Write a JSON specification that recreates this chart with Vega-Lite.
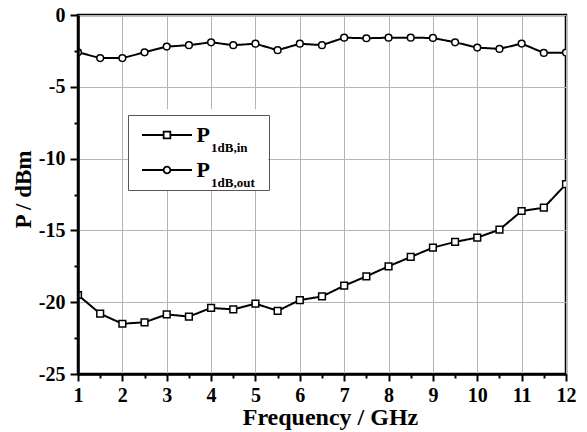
{
  "$schema": "https://vega.github.io/schema/vega-lite/v6.json",
  "width": 488,
  "height": 359,
  "autosize": "none",
  "padding": {"left": 78, "top": 15, "right": 21, "bottom": 58},
  "background": "white",
  "config": {
    "view": {"stroke": "black", "strokeWidth": 2.5},
    "font": "Liberation Serif"
  },
  "data": {
    "values": [
      {"f": 1, "p": -19.5, "series": "in", "sub": "1dB,in"},
      {"f": 1.5, "p": -20.8, "series": "in", "sub": "1dB,in"},
      {"f": 2, "p": -21.5, "series": "in", "sub": "1dB,in"},
      {"f": 2.5, "p": -21.4, "series": "in", "sub": "1dB,in"},
      {"f": 3, "p": -20.85, "series": "in", "sub": "1dB,in"},
      {"f": 3.5, "p": -21.0, "series": "in", "sub": "1dB,in"},
      {"f": 4, "p": -20.4, "series": "in", "sub": "1dB,in"},
      {"f": 4.5, "p": -20.5, "series": "in", "sub": "1dB,in"},
      {"f": 5, "p": -20.1, "series": "in", "sub": "1dB,in"},
      {"f": 5.5, "p": -20.6, "series": "in", "sub": "1dB,in"},
      {"f": 6, "p": -19.85, "series": "in", "sub": "1dB,in"},
      {"f": 6.5, "p": -19.6, "series": "in", "sub": "1dB,in"},
      {"f": 7, "p": -18.85, "series": "in", "sub": "1dB,in"},
      {"f": 7.5, "p": -18.2, "series": "in", "sub": "1dB,in"},
      {"f": 8, "p": -17.5, "series": "in", "sub": "1dB,in"},
      {"f": 8.5, "p": -16.85, "series": "in", "sub": "1dB,in"},
      {"f": 9, "p": -16.2, "series": "in", "sub": "1dB,in"},
      {"f": 9.5, "p": -15.8, "series": "in", "sub": "1dB,in"},
      {"f": 10, "p": -15.5, "series": "in", "sub": "1dB,in"},
      {"f": 10.5, "p": -14.95, "series": "in", "sub": "1dB,in"},
      {"f": 11, "p": -13.65, "series": "in", "sub": "1dB,in"},
      {"f": 11.5, "p": -13.42, "series": "in", "sub": "1dB,in"},
      {"f": 12, "p": -11.78, "series": "in", "sub": "1dB,in"},
      {"f": 1, "p": -2.6, "series": "out", "sub": "1dB,out"},
      {"f": 1.5, "p": -3.0, "series": "out", "sub": "1dB,out"},
      {"f": 2, "p": -3.0, "series": "out", "sub": "1dB,out"},
      {"f": 2.5, "p": -2.6, "series": "out", "sub": "1dB,out"},
      {"f": 3, "p": -2.2, "series": "out", "sub": "1dB,out"},
      {"f": 3.5, "p": -2.1, "series": "out", "sub": "1dB,out"},
      {"f": 4, "p": -1.9, "series": "out", "sub": "1dB,out"},
      {"f": 4.5, "p": -2.1, "series": "out", "sub": "1dB,out"},
      {"f": 5, "p": -2.0, "series": "out", "sub": "1dB,out"},
      {"f": 5.5, "p": -2.45, "series": "out", "sub": "1dB,out"},
      {"f": 6, "p": -2.0, "series": "out", "sub": "1dB,out"},
      {"f": 6.5, "p": -2.1, "series": "out", "sub": "1dB,out"},
      {"f": 7, "p": -1.58, "series": "out", "sub": "1dB,out"},
      {"f": 7.5, "p": -1.62, "series": "out", "sub": "1dB,out"},
      {"f": 8, "p": -1.58, "series": "out", "sub": "1dB,out"},
      {"f": 8.5, "p": -1.58, "series": "out", "sub": "1dB,out"},
      {"f": 9, "p": -1.6, "series": "out", "sub": "1dB,out"},
      {"f": 9.5, "p": -1.9, "series": "out", "sub": "1dB,out"},
      {"f": 10, "p": -2.27, "series": "out", "sub": "1dB,out"},
      {"f": 10.5, "p": -2.36, "series": "out", "sub": "1dB,out"},
      {"f": 11, "p": -1.99, "series": "out", "sub": "1dB,out"},
      {"f": 11.5, "p": -2.64, "series": "out", "sub": "1dB,out"},
      {"f": 12, "p": -2.62, "series": "out", "sub": "1dB,out"}
    ]
  },
  "resolve": {"axis": {"x": "independent", "y": "independent"}},
  "layer": [
    {
      "mark": {"type": "line", "color": "black", "strokeWidth": 2, "clip": true},
      "encoding": {
        "x": {
          "field": "f", "type": "quantitative",
          "scale": {"domain": [1, 12], "nice": false, "zero": false},
          "axis": {
            "orient": "bottom",
            "values": [1, 1.5, 2, 2.5, 3, 3.5, 4, 4.5, 5, 5.5, 6, 6.5, 7, 7.5, 8, 8.5, 9, 9.5, 10, 10.5, 11, 11.5, 12],
            "labelExpr": "datum.value % 1 === 0 ? '' + datum.value : ''",
            "tickSize": {"condition": {"test": "datum.value % 1 === 0", "value": 7}, "value": 4},
            "grid": false,
            "domainColor": "black", "domainWidth": 2.5,
            "tickColor": "black", "tickWidth": 2,
            "labelFont": "Liberation Serif", "labelFontSize": 20, "labelFontWeight": "bold", "labelColor": "black",
            "labelPadding": 4, "labelFlush": false, "labelOverlap": false,
            "title": "Frequency / GHz",
            "titleFont": "Liberation Serif", "titleFontSize": 24, "titleFontWeight": "bold", "titleColor": "black",
            "titlePadding": 0,
            "titleX": 252,
            "zindex": 1
          }
        },
        "y": {
          "field": "p", "type": "quantitative",
          "scale": {"domain": [-25, 0], "nice": false, "zero": false},
          "axis": {
            "orient": "left",
            "values": [-25, -22.5, -20, -17.5, -15, -12.5, -10, -7.5, -5, -2.5, 0],
            "labelExpr": "datum.value % 5 === 0 ? '' + datum.value : ''",
            "tickSize": {"condition": {"test": "datum.value % 5 === 0", "value": 8}, "value": 4},
            "grid": false,
            "domainColor": "black", "domainWidth": 2.5,
            "tickColor": "black", "tickWidth": 2,
            "labelFont": "Liberation Serif", "labelFontSize": 20, "labelFontWeight": "bold", "labelColor": "black",
            "labelPadding": 5, "labelOverlap": false,
            "title": "P / dBm",
            "titleFont": "Liberation Serif", "titleFontSize": 23, "titleFontWeight": "bold", "titleColor": "black",
            "titlePadding": 3,
            "titleY": 174,
            "zindex": 1
          }
        },
        "strokeDash": {
          "field": "sub", "type": "nominal",
          "scale": {"domain": ["1dB,in", "1dB,out"], "range": [[1, 0], [1, 0]]},
          "legend": {
            "orient": "none", "legendX": 50, "legendY": 129, "title": null,
            "values": ["1dB,out"],
            "padding": 0, "labelOffset": 18, "symbolOffset": 13,
            "symbolSize": 2500, "symbolStrokeWidth": 2, "symbolStrokeColor": "black",
            "labelExpr": "datum.label + '\u00a0\u00a0\u00a0\u00a0\u200b'",
            "labelFont": "Liberation Serif", "labelFontSize": 13, "labelFontWeight": "bold", "labelColor": "black",
            "labelBaseline": "alphabetic",
            "fillColor": "white",
            "encode": {
              "labels": {"update": {"dy": {"value": 17}}}
            }
          }
        },
        "strokeWidth": {
          "field": "sub", "type": "ordinal",
          "scale": {"domain": ["1dB,out", "1dB,in"], "range": [2, 2]},
          "legend": {
            "orient": "none", "legendX": 50, "legendY": 94, "title": null,
            "values": ["1dB,in"],
            "padding": 0, "labelOffset": 18, "symbolOffset": 13,
            "symbolSize": 2500, "symbolStrokeColor": "black",
            "labelExpr": "datum.label + '\u00a0\u00a0\u00a0\u00a0\u00a0\u00a0\u200b'",
            "labelFont": "Liberation Serif", "labelFontSize": 13, "labelFontWeight": "bold", "labelColor": "black",
            "labelBaseline": "alphabetic",
            "fillColor": "white",
            "encode": {
              "labels": {"update": {"dy": {"value": 17}}}
            }
          }
        }
      }
    },
    {
      "mark": {"type": "point", "filled": true, "fill": "white", "stroke": "black", "strokeWidth": 1.5, "size": 45, "opacity": 1, "clip": true},
      "encoding": {
        "x": {
          "field": "f", "type": "quantitative",
          "axis": {
            "orient": "bottom",
            "values": [1, 2, 3, 4, 5, 6, 7, 8, 9, 10, 11, 12],
            "grid": true, "gridColor": "#b4b4b4", "gridWidth": 1,
            "domain": false, "ticks": false, "labels": false, "title": null,
            "zindex": 0
          }
        },
        "y": {
          "field": "p", "type": "quantitative",
          "axis": {
            "orient": "left",
            "values": [-25, -20, -15, -10, -5, 0],
            "grid": true, "gridColor": "#b4b4b4", "gridWidth": 1,
            "domain": false, "ticks": false, "labels": false, "title": null,
            "zindex": 0
          }
        },
        "shape": {
          "field": "series", "type": "nominal",
          "scale": {"domain": ["in", "out"], "range": ["square", "circle"]},
          "legend": {
            "orient": "none", "legendX": 50, "legendY": 100, "title": null,
            "padding": 9, "rowPadding": 13, "labelOffset": 18.5, "symbolOffset": 19,
            "symbolSize": 45, "symbolStrokeWidth": 1.8,
            "labelExpr": "'P\u00a0\u00a0\u00a0\u00a0\u00a0\u00a0\u00a0\u00a0\u00a0\u200b'",
            "labelFont": "Liberation Serif", "labelFontSize": 22, "labelFontWeight": "bold", "labelColor": "black",
            "labelBaseline": "middle",
            "strokeColor": "#555"
          }
        }
      }
    }
  ]
}
